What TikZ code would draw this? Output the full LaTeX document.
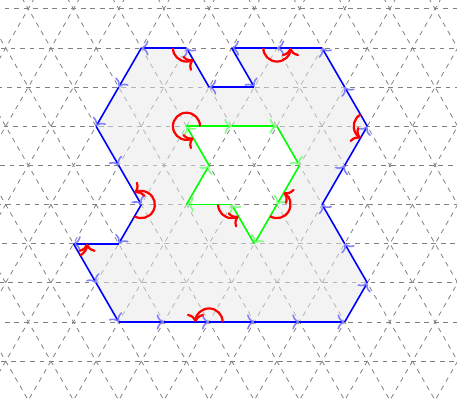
\documentclass[tikz,border=0pt]{standalone}
\usepackage{tikz}
\usetikzlibrary{arrows.meta}

\begin{document}
\begin{tikzpicture}[
    lattice/.style={dashed, gray, line width=0.5pt},
    region/.style={fill=gray!18, fill opacity=0.5, even odd rule},
    outeredge/.style={draw=blue, line width=1pt, -{To[color=blue!50, scale=1.2]}},
    holeedge/.style={draw=green, line width=1pt, -{To[color=green!50, scale=1.2]}},
    turn/.style={draw=red, line width=1.4pt, -{To[scale=1.1]}},
    tri/.style={x={(1cm,0cm)}, y={(0.5cm,0.8660cm)}}
]
    \useasboundingbox (-0.126,-0.84) rectangle (9.985,7.99);

    % 三角网格
    \begin{scope}
        \clip (-0.126,-0.84) rectangle (9.985,7.99);
        \begin{scope}[tri]
            \foreach \b in {-1,...,9}
                \draw[lattice] (-6,\b) -- (12,\b);
            \foreach \a in {-6,...,12}
                \draw[lattice] (\a,-2) -- (\a,10);
            \foreach \c in {-2,...,22}
                \draw[lattice] (\c+2,-2) -- (\c-10,10);
        \end{scope}
    \end{scope}

    % 区域顶点 (外边界逆时针, 内边界顺时针)
    \begin{scope}[tri]
        \foreach \x/\y [count=\i] in {3/8, 2/8, 1/8, 2/7, 1/7, 0/8, -1/8, -1/7, -1/6,
            0/5, 1/4, 1/3, 0/3, 1/2, 2/1, 3/1, 4/1, 5/1, 6/1, 7/1, 7/2, 6/3, 5/4,
            5/5, 5/6, 4/7, 3/8}
            \coordinate (b\i) at (\x,\y);
        \foreach \x/\y [count=\i] in {1/6, 2/6, 3/6, 4/5, 4/4, 4/3, 3/4, 2/4, 2/5, 1/6}
            \coordinate (g\i) at (\x,\y);
    \end{scope}

    % 填充区域
    \fill[region] (b1) \foreach \i in {2,...,26}{ -- (b\i)} -- cycle
        (g1) \foreach \i in {2,...,9}{ -- (g\i)} -- cycle;

    % 外边界
    \foreach \i [remember=\i as \k (initially 1)] in {2,...,27}
        \draw[outeredge] (b\k) -- (b\i);

    % 内边界
    \foreach \i [remember=\i as \k (initially 1)] in {2,...,10}
        \draw[holeedge] (g\k) -- (g\i);

    % 内角
    \foreach \v/\s/\e in {b6/180/300, b2/180/360, b25/120/240, b11/240/480,
        b13/300/360, b17/0/180, g1/0/300, g7/180/300, g5/240/420}
        \draw[turn] ([shift={(\s:0.3)}]\v) arc[start angle=\s, end angle=\e, radius=0.3];
\end{tikzpicture}
\end{document}
